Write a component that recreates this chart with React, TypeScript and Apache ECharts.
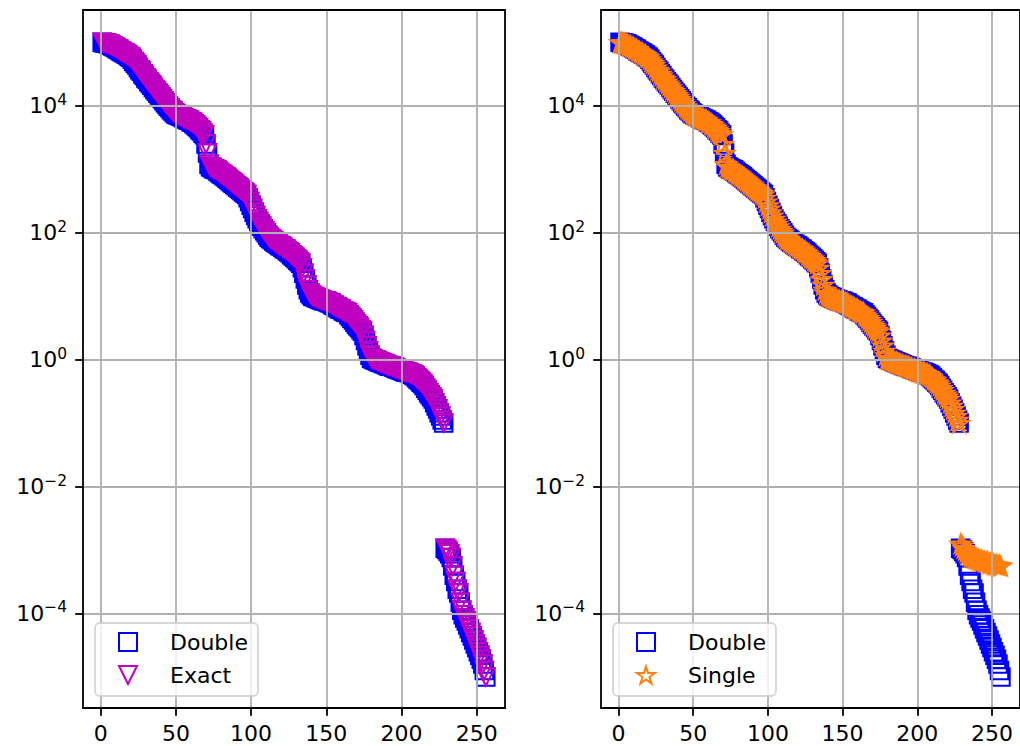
import React, { useEffect, useRef } from "react";
import * as echarts from "echarts";

// Sorted values, rank 1..228 (upper branch, shared by all three series)
const upperBranch = [
  1.0e5, 9.9e4, 9.8e4, 9.7e4, 9.5e4, 9.3e4, 9.0e4, 8.8e4,
  8.5e4, 8.3e4, 7.9e4, 7.8e4, 7.4e4, 7.2e4, 6.9e4, 6.8e4, 6.5e4, 6.3e4, 6.0e4, 5.8e4,
  5.4e4, 5.0e4, 4.7e4, 4.4e4, 4.0e4, 3.7e4, 3.5e4, 3.2e4, 3.0e4, 2.75e4, 2.6e4,
  2.4e4, 2.24e4, 2.1e4, 1.95e4, 1.8e4, 1.7e4, 1.58e4, 1.48e4, 1.38e4, 1.29e4, 1.2e4,
  1.12e4, 1.05e4, 9.8e3, 9.3e3, 8.7e3, 8.3e3, 7.8e3, 7.4e3,
  7.2e3, 7.1e3, 6.9e3, 6.8e3, 6.5e3, 6.3e3, 6.2e3, 6.0e3, 5.9e3, 5.6e3, 5.5e3,
  5.2e3, 5.0e3, 4.7e3, 4.5e3, 4.2e3, 4.0e3, 3.7e3, 3.5e3,
  2.5e3, 1.8e3, 1.2e3,
  1.1e3, 1.07e3, 1.02e3, 1.0e3, 980, 930, 890,
  850, 830, 790, 760, 720, 690, 660,
  630, 600, 575, 550, 525, 500, 480, 460, 440, 420, 400,
  355, 310, 270, 240, 210, 186, 166,
  150, 138, 126, 115, 107, 100, 91, 85,
  81, 78, 74, 71, 69, 66, 63, 62, 59, 56, 55, 52,
  50, 48, 45, 43, 41, 39, 37, 35, 33,
  28, 23, 18.6, 15, 12.6, 11.2, 10.5,
  10.0, 9.8, 9.5, 9.3, 9.1, 8.9, 8.7, 8.5, 8.5, 8.3, 8.1, 7.9,
  7.8, 7.4, 7.2, 6.9, 6.8, 6.5, 6.3, 6.2, 5.9, 5.75, 5.6, 5.5,
  5.1, 4.8, 4.5, 4.2, 3.9, 3.6, 3.4, 3.2, 2.95, 2.8,
  2.4, 2.0, 1.66, 1.38, 1.17, 1.05,
  1.02, 1.0, 0.98, 0.95, 0.93, 0.91, 0.89, 0.87, 0.85, 0.83, 0.81, 0.79, 0.79, 0.78, 0.76, 0.74,
  0.72, 0.71, 0.69, 0.68, 0.66, 0.65, 0.63, 0.63, 0.62, 0.6, 0.59, 0.575,
  0.55, 0.52, 0.49, 0.47, 0.44, 0.42,
  0.39, 0.355, 0.33, 0.3, 0.28, 0.26, 0.24,
  0.21, 0.186, 0.166, 0.145, 0.129, 0.112, 0.1,
];

// rank 229..256
const doubleTail = [
  1.07e-3, 1.02e-3, 9.5e-4, 8.7e-4, 7.6e-4, 5.6e-4, 4.0e-4, 3.2e-4, 2.4e-4, 2.1e-4,
  1.5e-4, 1.12e-4, 9.5e-5, 8.5e-5, 7.6e-5, 6.6e-5, 5.75e-5, 5.0e-5, 4.4e-5, 3.8e-5,
  3.3e-5, 2.9e-5, 2.5e-5, 2.2e-5, 1.9e-5, 1.6e-5, 1.26e-5, 1.0e-5,
];
const exactTail = [
  1.07e-3, 1.02e-3, 9.5e-4, 8.7e-4, 7.6e-4, 5.6e-4, 4.0e-4, 3.2e-4, 2.4e-4, 2.1e-4,
  1.5e-4, 1.12e-4, 9.5e-5, 8.5e-5, 7.6e-5, 6.6e-5, 5.75e-5, 5.0e-5, 4.4e-5, 3.8e-5,
  3.3e-5, 2.9e-5, 2.5e-5, 2.2e-5, 1.9e-5, 1.6e-5, 1.26e-5, 1.0e-5,
];
const singleTail = [
  1.26e-3, 1.17e-3, 1.07e-3, 1.0e-3, 9.3e-4, 8.7e-4, 8.3e-4, 7.9e-4, 7.8e-4, 7.6e-4,
  7.4e-4, 7.2e-4, 7.1e-4, 6.9e-4, 6.8e-4, 6.8e-4, 6.6e-4, 6.5e-4, 6.5e-4, 6.3e-4,
  6.2e-4, 6.2e-4, 6.0e-4, 5.9e-4, 5.9e-4, 5.75e-4, 5.75e-4, 5.6e-4,
];

const doubleValues = [...upperBranch, ...doubleTail];
const exactValues = [...upperBranch, ...exactTail];
const singleValues = [...upperBranch, ...singleTail];

const xTicks = [0, 50, 100, 150, 200, 250];
const yTicks = [1e-4, 1e-2, 1, 1e2, 1e4];

const X_MIN = -11.75;
const X_MAX = 268.75;
const Y_MIN = Math.pow(10, -5.49);
const Y_MAX = Math.pow(10, 5.51);

const BLUE = "#0000ff";
const MAGENTA = "#bf00bf";
const ORANGE = "#ff7f0e";
const FONT = "DejaVu Sans";
const STAR =
  "path://M10 0 L12.245 6.91 L19.511 6.91 L13.633 11.18 L15.878 18.09 L10 13.82 L4.122 18.09 L6.367 11.18 L0.489 6.91 L7.755 6.91 Z";
const TRI_DOWN = "path://M0 0 L20 0 L10 20 Z";

const toPoints = (vals: number[]) => vals.map((v, i) => [i + 1, v]);

const supFormatter = (v: number) => {
  const e = Math.round(Math.log10(v));
  const s = e < 0 ? "\u2212" + -e : String(e);
  return "{b|10}{sup|" + s + "}";
};

function mainX(gridIndex: number) {
  return {
    type: "value",
    gridIndex,
    position: "bottom",
    min: X_MIN,
    max: X_MAX,
    z: 3,
    axisLine: { show: true, onZero: false, lineStyle: { color: "#000", width: 1.8 } },
    axisTick: { show: true, customValues: xTicks, length: 7.8, lineStyle: { color: "#000", width: 1.8 } },
    axisLabel: { customValues: xTicks, color: "#000", fontSize: 22, fontFamily: FONT, margin: 14 },
    splitLine: { show: true, lineStyle: { color: "#b0b0b0", width: 1.8 } },
  };
}
function topX(gridIndex: number) {
  return {
    type: "value",
    gridIndex,
    position: "top",
    min: X_MIN,
    max: X_MAX,
    z: 3,
    axisLine: { show: true, onZero: false, lineStyle: { color: "#000", width: 1.8 } },
    axisTick: { show: false },
    axisLabel: { show: false },
    splitLine: { show: false },
  };
}
function mainY(gridIndex: number) {
  return {
    type: "log",
    logBase: 10,
    gridIndex,
    position: "left",
    min: Y_MIN,
    max: Y_MAX,
    z: 3,
    axisLine: { show: true, onZero: false, lineStyle: { color: "#000", width: 1.8 } },
    axisTick: { show: true, customValues: yTicks, length: 7.8, lineStyle: { color: "#000", width: 1.8 } },
    axisLabel: {
      customValues: yTicks,
      formatter: supFormatter,
      margin: 16,
      color: "#000",
      rich: {
        b: { fontSize: 22, lineHeight: 28, fontFamily: FONT, color: "#000" },
        sup: { fontSize: 15.5, lineHeight: 19, verticalAlign: "top", fontFamily: FONT, color: "#000" },
      },
    },
    splitLine: { show: true, lineStyle: { color: "#b0b0b0", width: 1.8 } },
  };
}
function rightY(gridIndex: number) {
  return {
    type: "log",
    logBase: 10,
    gridIndex,
    position: "right",
    min: Y_MIN,
    max: Y_MAX,
    z: 3,
    axisLine: { show: true, onZero: false, lineStyle: { color: "#000", width: 1.8 } },
    axisTick: { show: false },
    axisLabel: { show: false },
    splitLine: { show: false },
  };
}

function scatter(name: string, vals: number[], grid: number, symbol: string, color: string, extra: any = {}) {
  return {
    type: "scatter",
    name,
    xAxisIndex: grid * 2,
    yAxisIndex: grid * 2,
    data: toPoints(vals),
    symbol,
    symbolSize: 17.5,
    symbolKeepAspect: true,
    silent: true,
    itemStyle: { color: "rgba(255,255,255,0)", borderColor: color, borderWidth: 2, opacity: 1 },
    emphasis: { disabled: true },
    ...extra,
  };
}

function legend(left: number, names: string[]) {
  return {
    show: true,
    left,
    top: 623,
    orient: "vertical",
    data: names,
    itemWidth: 18,
    itemHeight: 18,
    itemGap: 11,
    padding: [8, 10, 10, 23],
    backgroundColor: "rgba(255,255,255,0.8)",
    borderColor: "rgba(204,204,204,0.8)",
    borderWidth: 1.8,
    borderRadius: 5,
    selectedMode: false,
    textStyle: { fontSize: 22, fontFamily: FONT, color: "#000", lineHeight: 22, padding: [0, 0, 0, 28] },
  };
}

export default function App() {
  const ref = useRef<HTMLDivElement>(null);
  useEffect(() => {
    if (!ref.current) return;
    const chart = echarts.init(ref.current, null, { renderer: "svg" });
    chart.setOption({
      animation: false,
      backgroundColor: "#fff",
      textStyle: { fontFamily: FONT },
      grid: [
        { left: 83, top: 10, width: 422, height: 698 },
        { left: 601, top: 10, width: 422, height: 698 },
      ],
      xAxis: [mainX(0), topX(0), mainX(1), topX(1)],
      yAxis: [mainY(0), rightY(0), mainY(1), rightY(1)],
      legend: [legend(95, ["Double", "Exact"]), legend(613, ["Double", "Single"])],
      series: [
        scatter("Double", doubleValues, 0, "rect", BLUE),
        scatter("Exact", exactValues, 0, TRI_DOWN, MAGENTA),
        scatter("Double", doubleValues, 1, "rect", BLUE),
        scatter("Single", singleValues, 1, STAR, ORANGE, { symbolSize: 19 }),
      ],
    });
    return () => chart.dispose();
  }, []);
  return (
    <div
      ref={ref}
      style={{ position: "fixed", left: 0, top: 0, width: 1020, height: 746, background: "#fff" }}
    />
  );
}
